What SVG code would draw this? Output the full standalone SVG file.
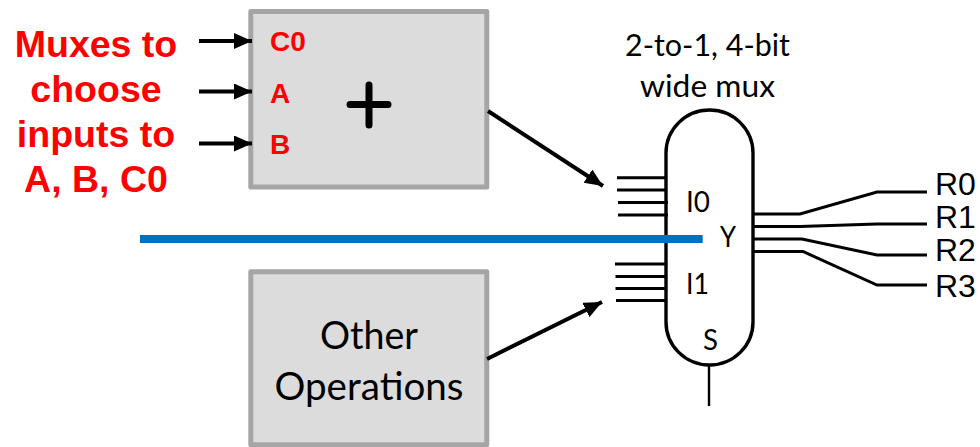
<svg xmlns="http://www.w3.org/2000/svg" width="980" height="447" viewBox="0 0 980 447">
<style>
.box{fill:#dcdcdc;stroke:#a5a5a5;stroke-width:5;stroke-linejoin:round}
.red{font-family:"Liberation Sans",Arial,sans-serif;font-weight:bold;fill:#ff0000}
.big{font-size:37.5px;text-anchor:middle}
.port{font-size:28px}
.cal{font-family:Lato,"Open Sans",sans-serif;fill:#000}
.res{font-family:"Liberation Sans",Arial,sans-serif;font-size:32px;fill:#000}
.w3{fill:none;stroke:#000;stroke-width:3}
.ar{fill:none;stroke:#000;stroke-width:4}
.plus{stroke:#000;stroke-width:7;stroke-linecap:round}
</style>
<defs>
<marker id="ah" markerUnits="userSpaceOnUse" markerWidth="20" markerHeight="18" refX="18" refY="8" orient="auto">
<path d="M0 0L18 8L0 16Z" fill="#000"/>
</marker>
</defs>
<g id="label-muxes" class="red big">
<text x="96" y="57">Muxes to</text>
<text x="96" y="102">choose</text>
<text x="96" y="147">inputs to</text>
<text x="96" y="192">A, B, C0</text>
</g>
<g id="adder">
<rect class="box" x="250.8" y="11.5" width="236" height="175.5"/>
<text class="red port" x="270" y="51">C0</text>
<text class="red port" x="270" y="103">A</text>
<text class="red port" x="270" y="154">B</text>
<path class="plus" d="M350 104.500H388M369 85V125"/>
</g>
<g id="other-operations">
<rect class="box" x="250.8" y="271.8" width="236" height="173"/>
<text class="cal" x="369" y="349" font-size="38" text-anchor="middle" textLength="98" lengthAdjust="spacingAndGlyphs">Other</text>
<text class="cal" x="369" y="400" font-size="38" text-anchor="middle" textLength="189" lengthAdjust="spacingAndGlyphs">Operations</text>
</g>
<g id="mux">
<path class="w3" d="M666 153A43.500 43 0 0 1 753 153V322A43.500 43 0 0 1 666 322Z" style="stroke-width:3.400"/>
<text class="cal" x="707.500" y="56" font-size="30" text-anchor="middle" textLength="165" lengthAdjust="spacingAndGlyphs">2-to-1, 4-bit</text>
<text class="cal" x="707.500" y="97" font-size="30" text-anchor="middle" textLength="135" lengthAdjust="spacingAndGlyphs">wide mux</text>
<text class="cal" x="686" y="212" font-size="28" textLength="24" lengthAdjust="spacingAndGlyphs">I0</text>
<text class="cal" x="686" y="294" font-size="28" textLength="23" lengthAdjust="spacingAndGlyphs">I1</text>
<text class="cal" x="720" y="247" font-size="28" textLength="16" lengthAdjust="spacingAndGlyphs">Y</text>
<text class="cal" x="703" y="350" font-size="28" textLength="15" lengthAdjust="spacingAndGlyphs">S</text>
</g>
<g id="connectors">
<path class="ar" marker-end="url(#ah)" d="M199 41H252"/>
<path class="ar" marker-end="url(#ah)" d="M199 91.500H252"/>
<path class="ar" marker-end="url(#ah)" d="M199 143.500H252"/>
<path class="ar" marker-end="url(#ah)" d="M488 111L603 186"/>
<path class="ar" marker-end="url(#ah)" d="M487 359L602 302"/>
<path class="w3" d="M617 177.700H666M617 190H666M618 202.500H668M618 215H668"/>
<path class="w3" d="M615 264H666M615.500 276.500H666M615.500 288.500H666M616 300.500H666"/>
<path class="w3" d="M753 214H800L877 192H927"/>
<path class="w3" d="M753 226.500H800L877 224H927"/>
<path class="w3" d="M753 239H802L877 255H927"/>
<path class="w3" d="M753 251.500H803L877 285H927"/>
<path d="M709 365V406" fill="none" stroke="#000" stroke-width="2.400"/>
<rect x="140" y="235" width="562.700" height="8" fill="#0070c0"/>
</g>
<g id="outputs">
<text class="res" x="935" y="195">R0</text>
<text class="res" x="935" y="228">R1</text>
<text class="res" x="935" y="261">R2</text>
<text class="res" x="935" y="297">R3</text>
</g>
</svg>
